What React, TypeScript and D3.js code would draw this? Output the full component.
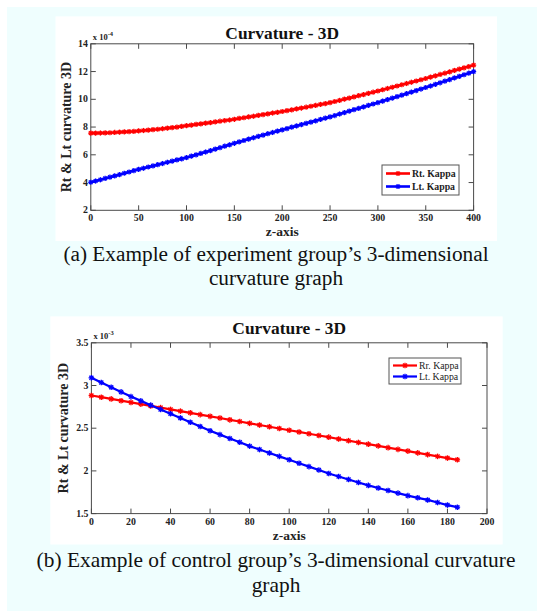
import React from "react";
import * as d3 from "d3";

// ---------- Data ----------
const zTopStep = 5;
const rtKappaTop = [
  7.56, 7.56, 7.57, 7.58, 7.59, 7.61, 7.63, 7.65, 7.67, 7.69, 7.72, 7.75, 7.78, 7.81, 7.84, 7.88,
  7.92, 7.96, 8.0, 8.05, 8.1, 8.14, 8.19, 8.23, 8.28, 8.32, 8.37, 8.42, 8.47, 8.51, 8.56, 8.62,
  8.67, 8.73, 8.78, 8.84, 8.9, 8.95, 9.01, 9.06, 9.12, 9.18, 9.24, 9.31, 9.37, 9.43, 9.5, 9.56,
  9.63, 9.69, 9.76, 9.84, 9.92, 10.01, 10.09, 10.17, 10.26, 10.34, 10.43, 10.51, 10.6, 10.69,
  10.78, 10.87, 10.96, 11.05, 11.14, 11.23, 11.32, 11.41, 11.5, 11.6, 11.69, 11.79, 11.88, 11.98,
  12.08, 12.17, 12.27, 12.36, 12.46,
];
const ltKappaTop = [
  4.02, 4.11, 4.2, 4.3, 4.39, 4.48, 4.57, 4.67, 4.76, 4.86, 4.95, 5.03, 5.12, 5.2, 5.29, 5.37,
  5.46, 5.54, 5.63, 5.71, 5.8, 5.9, 6.0, 6.1, 6.2, 6.3, 6.41, 6.51, 6.62, 6.72, 6.83, 6.93, 7.03,
  7.13, 7.23, 7.33, 7.42, 7.52, 7.61, 7.71, 7.8, 7.89, 7.99, 8.08, 8.18, 8.27, 8.36, 8.45, 8.55,
  8.64, 8.73, 8.83, 8.94, 9.04, 9.15, 9.25, 9.35, 9.45, 9.56, 9.66, 9.76, 9.87, 9.98, 10.08,
  10.19, 10.3, 10.41, 10.52, 10.63, 10.74, 10.85, 10.96, 11.08, 11.19, 11.31, 11.42, 11.54,
  11.65, 11.77, 11.88, 12.0,
];
const topXTicks = [0, 50, 100, 150, 200, 250, 300, 350, 400];
const topYTicks = [2, 4, 6, 8, 10, 12, 14];

const zBottomStep = 5;
const rrKappaBottom = [
  2.883, 2.863, 2.843, 2.822, 2.802, 2.782, 2.761, 2.741, 2.72, 2.7, 2.68, 2.659, 2.639, 2.619,
  2.598, 2.578, 2.557, 2.537, 2.517, 2.496, 2.476, 2.456, 2.435, 2.415, 2.395, 2.374, 2.354,
  2.333, 2.313, 2.293, 2.272, 2.252, 2.232, 2.211, 2.191, 2.17, 2.15, 2.13,
];
const ltKappaBottom = [
  3.09, 3.035, 2.98, 2.925, 2.87, 2.82, 2.77, 2.72, 2.67, 2.62, 2.57, 2.52, 2.47, 2.425, 2.38,
  2.335, 2.29, 2.25, 2.21, 2.17, 2.13, 2.09, 2.05, 2.01, 1.97, 1.935, 1.9, 1.865, 1.83, 1.8,
  1.77, 1.74, 1.71, 1.685, 1.66, 1.63, 1.6, 1.575,
];
const bottomXTicks = [0, 20, 40, 60, 80, 100, 120, 140, 160, 180, 200];
const bottomYTicks = [1.5, 2, 2.5, 3, 3.5];

const SERIF = "'Liberation Serif', 'Times New Roman', serif";
const RED = "#ff0000";
const BLUE = "#0000ff";

type Series = { name: string; values: number[]; color: string };

function Star({ x, y, r, color, w }: { x: number; y: number; r: number; color: string; w: number }) {
  const d = r * 0.72;
  return (
    <g stroke={color} strokeWidth={w}>
      <line x1={x - r} y1={y} x2={x + r} y2={y} />
      <line x1={x} y1={y - r} x2={x} y2={y + r} />
      <line x1={x - d} y1={y - d} x2={x + d} y2={y + d} />
      <line x1={x - d} y1={y + d} x2={x + d} y2={y - d} />
    </g>
  );
}

function Chart(props: {
  panel: [number, number, number, number];
  plot: [number, number, number, number];
  xDomain: [number, number];
  yDomain: [number, number];
  xTicks: number[];
  yTicks: number[];
  step: number;
  series: Series[];
  exponent: string;
  lineWidth: number;
  markerR: number;
  legend: { x: number; y: number; w: number; h: number; rowGap: number; bold: boolean };
  yLabelX: number;
  titleY: number;
}) {
  const [px, py, pw, ph] = props.panel;
  const [l, t, r, b] = props.plot;
  const x = d3.scaleLinear().domain(props.xDomain).range([l, r]);
  const y = d3.scaleLinear().domain(props.yDomain).range([b, t]);
  const tk = 5;
  const axisColor = "#4a4a4a";
  const fmt = (v: number) => String(v);
  const cx = (l + r) / 2;
  const lg = props.legend;
  return (
    <g>
      <rect x={px} y={py} width={pw} height={ph} fill="#ffffff" />
      <rect x={l} y={t} width={r - l} height={b - t} fill="#ffffff" stroke={axisColor} strokeWidth={1} />
      {props.xTicks.map((v) => (
        <g key={"xt" + v}>
          <line x1={x(v)} x2={x(v)} y1={b} y2={b - tk} stroke={axisColor} />
          <line x1={x(v)} x2={x(v)} y1={t} y2={t + tk} stroke={axisColor} />
          <text x={x(v)} y={b + 11} textAnchor="middle" fontFamily={SERIF} fontWeight="bold" fontSize={9.8} fill="#222">
            {fmt(v)}
          </text>
        </g>
      ))}
      {props.yTicks.map((v) => (
        <g key={"yt" + v}>
          <line x1={l} x2={l + tk} y1={y(v)} y2={y(v)} stroke={axisColor} />
          <line x1={r} x2={r - tk} y1={y(v)} y2={y(v)} stroke={axisColor} />
          <text x={l - 3} y={y(v) + 3} textAnchor="end" fontFamily={SERIF} fontWeight="bold" fontSize={9.8} fill="#222">
            {fmt(v)}
          </text>
        </g>
      ))}
      <text x={l + 2} y={t - 4} fontFamily={SERIF} fontWeight="bold" fontSize={8.5} fill="#222">
        x 10
        <tspan dy={-4} fontSize={6.5}>{props.exponent}</tspan>
      </text>
      <text x={cx} y={props.titleY} textAnchor="middle" fontFamily={SERIF} fontWeight="bold" fontSize={17.4} fill="#111">
        Curvature - 3D
      </text>
      <text x={cx} y={b + 26} textAnchor="middle" fontFamily={SERIF} fontWeight="bold" fontSize={13.5} fill="#222">
        z-axis
      </text>
      <text
        transform={`translate(${props.yLabelX},${(t + b) / 2}) rotate(-90)`}
        textAnchor="middle"
        dy="0.35em"
        fontFamily={SERIF}
        fontWeight="bold"
        fontSize={14}
        fill="#222"
      >
        Rt &amp; Lt curvature 3D
      </text>
      {props.series.map((s) => {
        const pts = s.values.map((v, i) => [x(i * props.step), y(v)] as [number, number]);
        const path = d3.line()(pts) || "";
        return (
          <g key={s.name}>
            <path d={path} fill="none" stroke={s.color} strokeWidth={props.lineWidth} />
            {pts.map((p, i) => (
              <Star key={i} x={p[0]} y={p[1]} r={props.markerR} color={s.color} w={1.3} />
            ))}
          </g>
        );
      })}
      <rect x={lg.x} y={lg.y} width={lg.w} height={lg.h} fill="#ffffff" stroke="#555" strokeWidth={1} />
      {props.series.map((s, i) => {
        const yy = lg.y + lg.h / 2 + (i - 0.5) * lg.rowGap;
        const x1 = lg.x + 4;
        const x2 = lg.x + 28;
        return (
          <g key={"lg" + s.name}>
            <line x1={x1} x2={x2} y1={yy} y2={yy} stroke={s.color} strokeWidth={props.lineWidth} />
            <Star x={(x1 + x2) / 2} y={yy} r={props.markerR} color={s.color} w={1.3} />
            <text x={x2 + 2} y={yy + 3.3} fontFamily={SERIF} fontWeight={lg.bold ? "bold" : "normal"} fontSize={9.8} fill="#222">
              {s.name}
            </text>
          </g>
        );
      })}
    </g>
  );
}

export default function App() {
  return (
    <svg
      width={537}
      height={611}
      style={{ position: "absolute", left: 0, top: 0, display: "block" }}
      xmlns="http://www.w3.org/2000/svg"
    >
      <rect x={0} y={0} width={537} height={611} fill="#ffffff" />
      <rect x={7} y={7} width={530} height={604} fill="#effefe" />
      <Chart
        panel={[55.5, 16.4, 441.5, 224.6]}
        plot={[90.8, 43.8, 473.6, 210.3]}
        xDomain={[0, 400]}
        yDomain={[2, 14]}
        xTicks={topXTicks}
        yTicks={topYTicks}
        step={zTopStep}
        series={[
          { name: "Rt. Kappa", values: rtKappaTop, color: RED },
          { name: "Lt. Kappa", values: ltKappaTop, color: BLUE },
        ]}
        exponent="-4"
        lineWidth={2.6}
        markerR={2.6}
        legend={{ x: 382, y: 165, w: 77, h: 30, rowGap: 13, bold: true }}
        yLabelX={66}
        titleY={38.5}
      />
      <text x={276} y={261} textAnchor="middle" fontFamily={SERIF} fontSize={21.3} fill="#111">
        (a) Example of experiment group’s 3-dimensional
      </text>
      <text x={276} y={285} textAnchor="middle" fontFamily={SERIF} fontSize={21.3} fill="#111">
        curvature graph
      </text>
      <Chart
        panel={[50.3, 316.4, 452.4, 228.1]}
        plot={[91.4, 342.8, 487, 513.6]}
        xDomain={[0, 200]}
        yDomain={[1.5, 3.5]}
        xTicks={bottomXTicks}
        yTicks={bottomYTicks}
        step={zBottomStep}
        series={[
          { name: "Rr. Kappa", values: rrKappaBottom, color: RED },
          { name: "Lt. Kappa", values: ltKappaBottom, color: BLUE },
        ]}
        exponent="-3"
        lineWidth={2.2}
        markerR={2.8}
        legend={{ x: 389, y: 358, w: 72, h: 26, rowGap: 11, bold: false }}
        yLabelX={63}
        titleY={334}
      />
      <text x={276} y={567} textAnchor="middle" fontFamily={SERIF} fontSize={21.4} fill="#111">
        (b) Example of control group’s 3-dimensional curvature
      </text>
      <text x={276} y={592} textAnchor="middle" fontFamily={SERIF} fontSize={21.4} fill="#111">
        graph
      </text>
    </svg>
  );
}
